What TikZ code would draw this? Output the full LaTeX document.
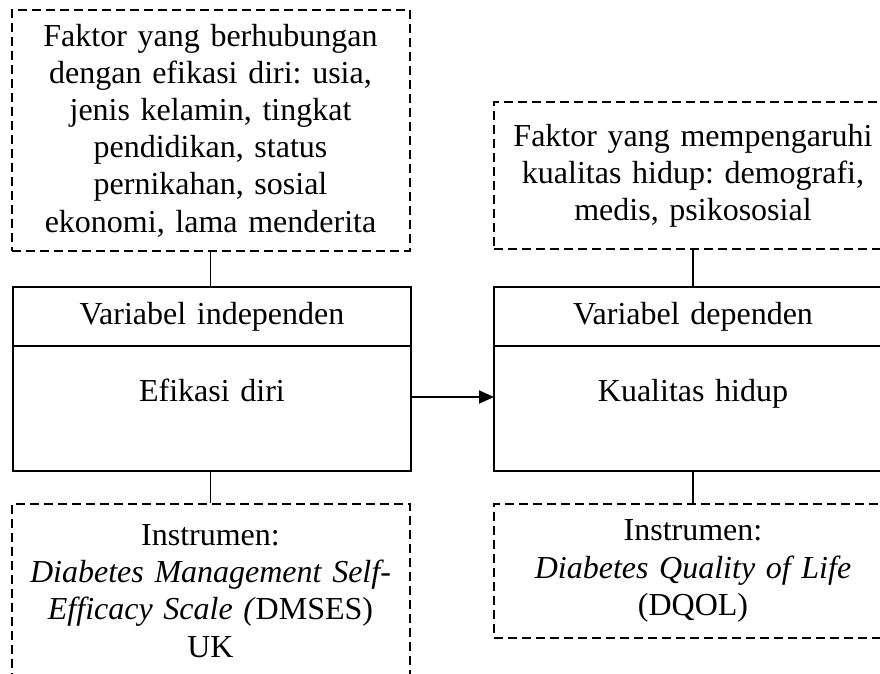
\documentclass[tikz,border=0pt]{standalone}
\usepackage{fontspec}
\setmainfont{Liberation Serif}
\usetikzlibrary{arrows.meta,positioning}
\frenchspacing

\begin{document}
\begin{tikzpicture}[x=1pt, y=-1pt,
  txt/.style={font=\fontsize{32}{37.2}\selectfont, align=center, text width=384pt, inner xsep=7pt, inner ysep=0pt},
  varhead/.style={txt, draw, line width=1.8pt, outer sep=0pt, minimum height=59pt},
  varbody/.style={txt, draw, line width=1.8pt, outer sep=0pt, minimum height=125pt},
  faktor/.style={txt, draw, dash pattern=on 9pt off 5pt, line width=2pt},
  link/.style={line width=1.8pt},
  arr/.style={-{Triangle[length=15pt,width=13pt]}, line width=1.8pt}
]
  \useasboundingbox (0,0) rectangle (880,673);
  \clip (0,0) rectangle (880,673);

  % variabel independen
  \node[varhead] (headL) at (212,316.5) {Variabel independen};
  \node[varbody, below=0pt of headL] (bodyL) {Efikasi diri\\\mbox{}};
  \node[faktor, minimum height=241pt, above=35pt of headL, xshift=-1.5pt] (fakL)
    {Faktor yang berhubungan\\dengan efikasi diri: usia,\\jenis kelamin, tingkat\\pendidikan, status\\pernikahan, sosial\\ekonomi, lama menderita};
  \node[faktor, minimum height=211pt, below=32pt of bodyL, xshift=-1.5pt] (insL)
    {Instrumen:\\\textit{Diabetes Management Self-}\\\textit{Efficacy Scale (}DMSES)\\UK\\\mbox{}};

  % variabel dependen
  \node[varhead, right=83pt of headL] (headR) {Variabel dependen};
  \node[varbody, below=0pt of headR] (bodyR) {Kualitas hidup\\\mbox{}};
  \node[faktor, minimum height=147pt, above=37pt of headR] (fakR)
    {Faktor yang mempengaruhi\\kualitas hidup: demografi,\\medis, psikososial};
  \node[faktor, minimum height=134pt, below=32pt of bodyR] (insR)
    {Instrumen:\\\textit{Diabetes Quality of Life}\\(DQOL)};

  \draw[link] (fakL.south) -- (fakL.south |- headL.north);
  \draw[link] (bodyL.south -| fakL.south) -- (insL.north);
  \draw[link] (fakR.south) -- (headR.north);
  \draw[link] (bodyR.south) -- (insR.north);
  \draw[arr] ([yshift=11.5pt]bodyL.east) -- ([yshift=11.5pt]bodyR.west);
\end{tikzpicture}
\end{document}
